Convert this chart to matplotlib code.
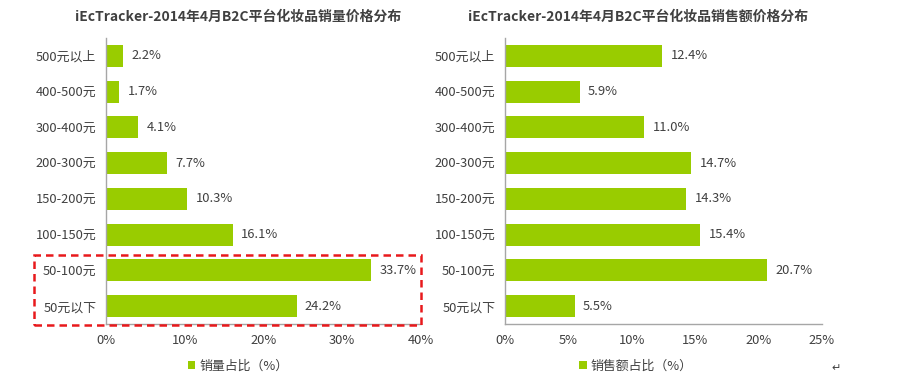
import matplotlib
matplotlib.use("Agg")
import matplotlib.pyplot as plt
from matplotlib.patches import Rectangle

plt.rcParams['font.family'] = ['Noto Sans CJK SC', 'DejaVu Sans']

categories = ["500元以上", "400-500元", "300-400元", "200-300元", "150-200元", "100-150元", "50-100元", "50元以下"]
volume_share = [2.2, 1.7, 4.1, 7.7, 10.3, 16.1, 33.7, 24.2]
sales_share = [12.4, 5.9, 11.0, 14.7, 14.3, 15.4, 20.7, 5.5]
left_title = "iEcTracker-2014年4月B2C平台化妆品销量价格分布"
right_title = "iEcTracker-2014年4月B2C平台化妆品销售额价格分布"
left_legend = "销量占比（%）"
right_legend = "销售额占比（%）"
left_ticks = [0, 10, 20, 30, 40]
right_ticks = [0, 5, 10, 15, 20, 25]

bar_color = "#99CC00"
text_color = "#404040"
axis_color = "#A6A6A6"

fig = plt.figure(figsize=(9.08, 3.78), dpi=100)
fig.patch.set_facecolor("white")

ax1 = fig.add_axes([0.1167, 0.1429, 0.347, 0.7566])
ax2 = fig.add_axes([0.5562, 0.1429, 0.349, 0.7566])

def draw(ax, values, ticks, title, legend_label, title_x, legend_x):
    y = list(range(len(categories)))
    bars = ax.barh(y, values, height=0.62, color=bar_color, label=legend_label)
    ax.set_yticks(y)
    ax.set_yticklabels(categories)
    ax.set_ylim(len(categories) - 0.5, -0.5)
    ax.set_xlim(ticks[0], ticks[-1])
    ax.set_xticks(ticks)
    ax.set_xticklabels([f"{t}%" for t in ticks])
    ax.tick_params(axis='both', length=0, labelsize=9.3, colors=text_color)
    ax.tick_params(axis='y', pad=7)
    ax.tick_params(axis='x', pad=7)
    for s in ["top", "right"]:
        ax.spines[s].set_visible(False)
    for s in ["left", "bottom"]:
        ax.spines[s].set_color(axis_color)
        ax.spines[s].set_linewidth(1.0)
    for yi, v in zip(y, values):
        ax.annotate(f"{v:.1f}%", (v, yi), xytext=(6, 0), textcoords="offset points",
                    va="center", ha="left", fontsize=9.3, color=text_color)
    fig.text(title_x, 0.955, title, ha="center", va="center", fontsize=10,
             fontweight="bold", color=text_color)
    leg = fig.legend(handles=[bars], labels=[legend_label], loc="center",
                     bbox_to_anchor=(legend_x, 1 - 366 / 378), frameon=False,
                     fontsize=9.3, handlelength=0.6, handleheight=0.6, handletextpad=0.3,
                     borderpad=0, borderaxespad=0)
    for t in leg.get_texts():
        t.set_color(text_color)

draw(ax1, volume_share, left_ticks, left_title, left_legend, 238 / 908, 238 / 908)
draw(ax2, sales_share, right_ticks, right_title, right_legend, 638 / 908, 636 / 908)

# red dashed highlight box around the two lowest price bands (left chart)
box = Rectangle((34 / 908, 1 - 325 / 378), (421 - 34) / 908, (325 - 255) / 378,
                transform=fig.transFigure, fill=False, edgecolor="#E8191C",
                linestyle=(0, (3, 2)), linewidth=1.8, clip_on=False)
fig.add_artist(box)

fig.text(836 / 908, 1 - 368 / 378, "↵", ha="center", va="center", fontsize=8,
         color=text_color, family="DejaVu Sans")

fig.savefig("out.png", dpi=100, facecolor="white")
